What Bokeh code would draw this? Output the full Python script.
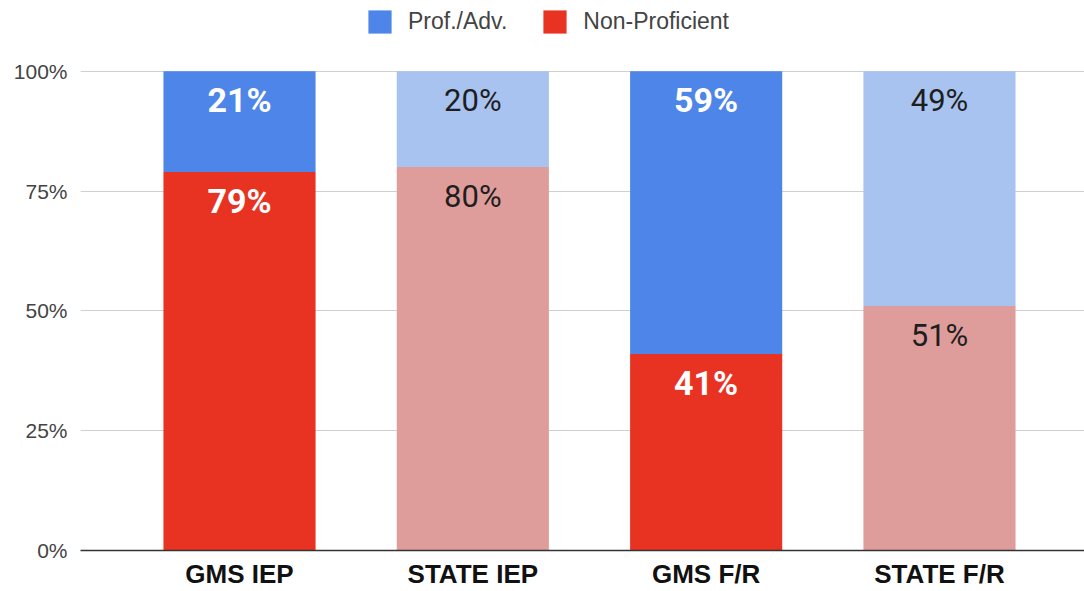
from bokeh.plotting import figure
from bokeh.models import (ColumnDataSource, Range1d, FixedTicker, NumeralTickFormatter,
                          Legend, LegendItem)
from bokeh.core.properties import value
from bokeh.embed import file_html
from bokeh.resources import INLINE

categories = ["GMS IEP", "STATE IEP", "GMS F/R", "STATE F/R"]
prof_adv = [21, 20, 59, 49]
non_prof = [79, 80, 41, 51]
prof_colors = ["#4e85e8", "#a9c3f0", "#4e85e8", "#a9c3f0"]
non_colors = ["#e83323", "#de9d9b", "#e83323", "#de9d9b"]
label_colors = ["white", "#1e1e1e", "white", "#1e1e1e"]
label_styles = ["bold", "normal", "bold", "normal"]
label_sizes = ["34px", "31px", "34px", "31px"]

xs = list(range(len(categories)))
src = ColumnDataSource(dict(
    x=xs,
    non_top=[v / 100 for v in non_prof],
    total=[(a + b) / 100 for a, b in zip(non_prof, prof_adv)],
    prof_txt=[f"{v}%" for v in prof_adv],
    non_txt=[f"{v}%" for v in non_prof],
    pc=prof_colors, nc=non_colors, lc=label_colors, ls=label_styles,
    fs=label_sizes,
))

LABEL_FONT = "Roboto"
AXIS_FONT = "Liberation Sans"

H_FRAME = 552          # frame height in px (frame starts at the top of the figure)
TOP_GAP = 71           # px between figure top and the 100% line
p = figure(width=1084, height=591, output_backend="svg", toolbar_location=None,
           x_range=Range1d(-0.6815, 3.6215),
           y_range=Range1d(0, H_FRAME / (H_FRAME - TOP_GAP)),
           min_border_left=80, min_border_right=0, min_border_top=0,
           min_border_bottom=591 - H_FRAME)
p.outline_line_color = None
p.background_fill_color = "white"

r_non = p.vbar(x="x", width=0.652, bottom=0, top="non_top", source=src,
               fill_color="nc", line_color=None)
r_prof = p.vbar(x="x", width=0.652, bottom="non_top", top="total", source=src,
                fill_color="pc", line_color=None)

for ycol, tcol in (("total", "prof_txt"), ("non_top", "non_txt")):
    p.text(x="x", y=ycol, text=tcol, source=src, text_align="center",
           text_baseline="middle", y_offset=29, text_color="lc",
           text_font_style="ls", text_font_size="fs",
           text_font=value(LABEL_FONT))

# axes
p.xaxis.ticker = FixedTicker(ticks=xs)
p.xaxis.major_label_overrides = {i: c for i, c in enumerate(categories)}
p.xaxis.major_label_text_font = AXIS_FONT
p.xaxis.major_label_text_font_style = "bold"
p.xaxis.major_label_text_font_size = "26px"
p.xaxis.major_label_text_color = "#111111"
p.xaxis.major_label_standoff = 8
p.xaxis.axis_line_color = "#333333"
p.xaxis.axis_line_width = 1.5
p.xaxis.major_tick_line_color = None
p.xaxis.minor_tick_line_color = None
p.xaxis.major_tick_out = 0
p.xaxis.major_tick_in = 0

p.yaxis.ticker = FixedTicker(ticks=[0, 0.25, 0.5, 0.75, 1.0])
p.yaxis.formatter = NumeralTickFormatter(format="0%")
p.yaxis.major_label_text_font = AXIS_FONT
p.yaxis.major_label_text_font_size = "21px"
p.yaxis.major_label_text_color = "#444444"
p.yaxis.major_label_standoff = 13
p.yaxis.axis_line_color = None
p.yaxis.major_tick_line_color = None
p.yaxis.minor_tick_line_color = None
p.yaxis.major_tick_out = 0
p.yaxis.major_tick_in = 0

p.xgrid.grid_line_color = None
p.ygrid.grid_line_color = "#d0d0d0"
p.ygrid.grid_line_width = 1

legend = Legend(items=[LegendItem(label="Prof./Adv.", renderers=[r_prof], index=0),
                       LegendItem(label="Non-Proficient", renderers=[r_non], index=0)],
                orientation="horizontal", location=(285, H_FRAME - 38),
                glyph_width=29, glyph_height=29, label_standoff=14, spacing=33,
                padding=0, margin=0, border_line_color=None,
                background_fill_alpha=0,
                label_text_font=AXIS_FONT, label_text_font_size="23px",
                label_text_color="#444444", label_height=29)
p.add_layout(legend, "center")

open("out.html", "w").write(file_html(p, INLINE))
